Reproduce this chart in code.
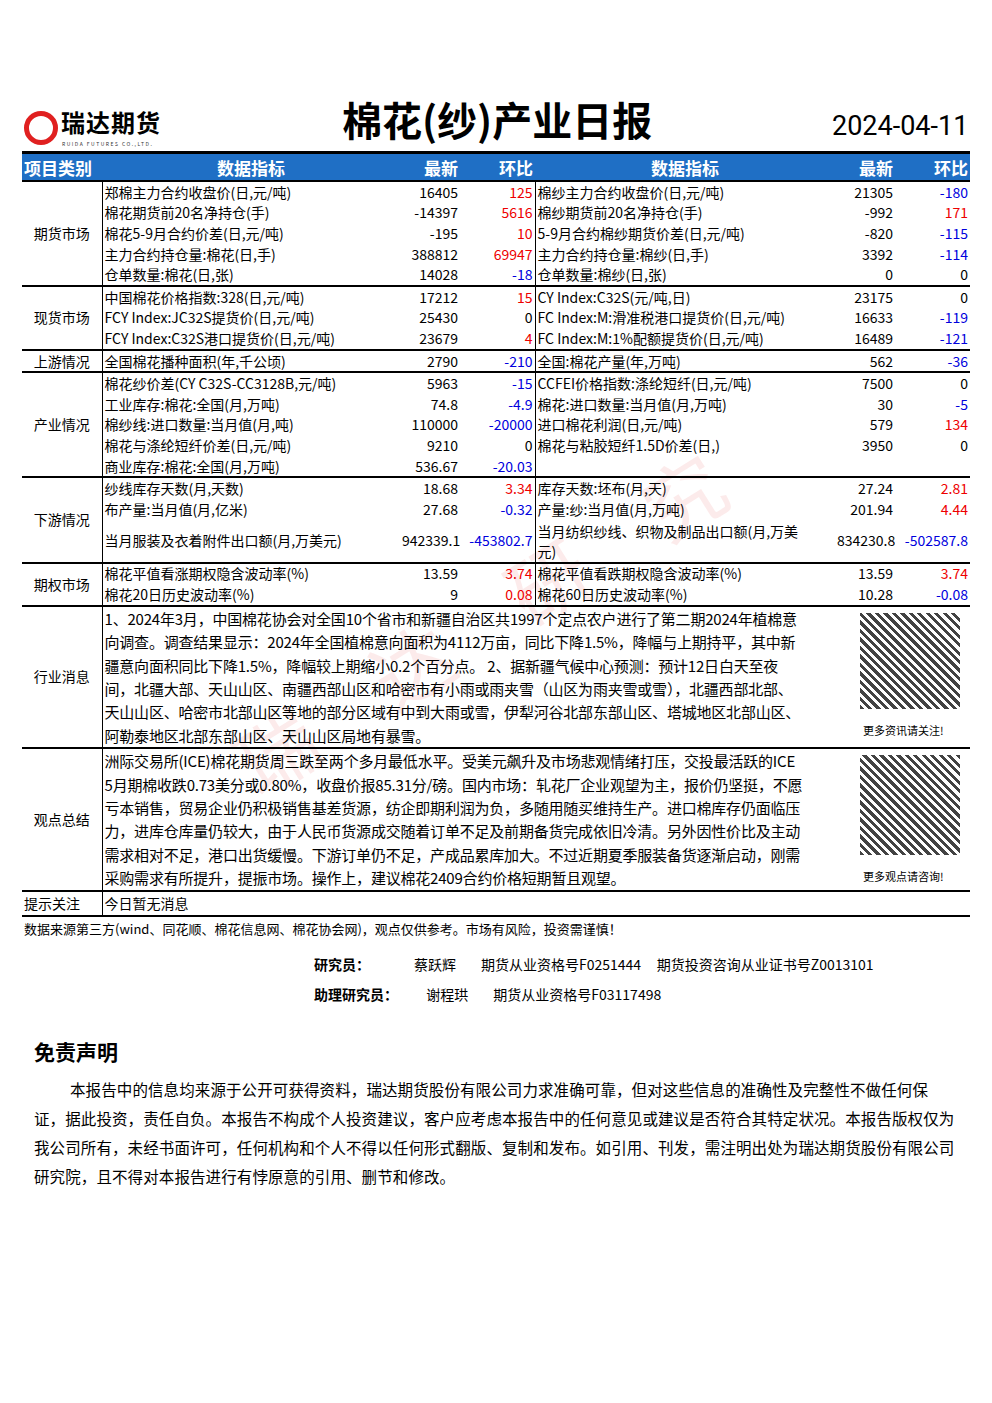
<!DOCTYPE html>
<html><head><meta charset="utf-8">
<script src="https://cdn.jsdelivr.net/npm/chart.js@4"></script>
<style>
body{margin:0;width:992px;height:1403px;background:#fff;font-family:"Noto Sans CJK SC","Noto Sans",sans-serif;position:relative;overflow:hidden;color:#000}
.abs{position:absolute}
table{border-collapse:collapse;table-layout:fixed;position:absolute;left:22px;top:154px;width:948px;font-size:14px}
td{padding:0 2px;height:20.6px;line-height:19px;white-space:nowrap;overflow:hidden}
th{background:#1f6fc5;color:#fff;font-size:17px;height:26px;font-weight:bold;padding:0 2px}
.c{text-align:center}.r{text-align:right}.vl{border-left:1px solid #000}
.pos{color:#e00}.neg{color:#00d}
tr.g td{border-top:2px solid #000}
.txt{white-space:normal;line-height:23.4px;vertical-align:top;padding-top:0;font-size:15px;letter-spacing:-0.2px}
</style></head><body>
<div class="abs" style="left:24px;top:111px;width:34px;height:34px;border-radius:50%;border:5px solid #e02020;box-sizing:border-box"></div>
<div class="abs" style="left:61px;top:107px;font-size:24px;font-weight:bold;letter-spacing:1px;line-height:30px">瑞达期货</div>
<div class="abs" style="left:62px;top:141px;font-size:5px;line-height:6px;letter-spacing:1.5px;color:#333">RUIDA FUTURES CO.,LTD.</div>
<div class="abs" style="left:342px;top:90px;font-size:40px;font-weight:bold">棉花(纱)产业日报</div>
<div class="abs" style="left:832px;top:110px;font-size:27px;font-family:Roboto">2024-04-11</div>
<div class="abs" style="left:22px;top:151px;width:948px;height:3px;background:#000"></div>
<div class="abs" style="left:210px;top:720px;font-size:80px;color:rgba(230,60,60,0.10);transform:rotate(-32deg);transform-origin:left top;white-space:nowrap;letter-spacing:80px">瑞达研究</div>
<table id="t">
<colgroup><col style="width:80px"><col style="width:298px"><col style="width:60px"><col style="width:75px"><col style="width:300px"><col style="width:60px"><col style="width:75px"></colgroup>
<tr><th style="text-align:left">项目类别</th><th>数据指标</th><th class="r">最新</th><th class="r">环比</th><th>数据指标</th><th class="r">最新</th><th class="r">环比</th></tr>
</table>
<div class="abs" style="left:24px;top:919px;font-size:13px">数据来源第三方(wind、同花顺、棉花信息网、棉花协会网)，观点仅供参考。市场有风险，投资需谨慎！</div>
<div class="abs" style="left:314px;top:949px;font-size:14px;line-height:30px;white-space:pre"><b>研究员：</b>              蔡跃辉        期货从业资格号F0251444     期货投资咨询从业证书号Z0013101
<b>助理研究员：</b>         谢程珙        期货从业资格号F03117498</div>
<div class="abs" style="left:34px;top:1036px;font-size:21px;font-weight:bold">免责声明</div>
<div class="abs" style="left:34px;top:1075px;width:925px;font-size:15.5px;line-height:29px;text-indent:36px;letter-spacing:0.1px">本报告中的信息均来源于公开可获得资料，瑞达期货股份有限公司力求准确可靠，但对这些信息的准确性及完整性不做任何保证，据此投资，责任自负。本报告不构成个人投资建议，客户应考虑本报告中的任何意见或建议是否符合其特定状况。本报告版权仅为我公司所有，未经书面许可，任何机构和个人不得以任何形式翻版、复制和发布。如引用、刊发，需注明出处为瑞达期货股份有限公司研究院，且不得对本报告进行有悖原意的引用、删节和修改。</div>
<script>
const groups=[["期货市场",5],["现货市场",3],["上游情况",1],["产业情况",5],["下游情况",3],["期权市场",2]];
const leftNames=["郑棉主力合约收盘价(日,元/吨)","棉花期货前20名净持仓(手)","棉花5-9月合约价差(日,元/吨)","主力合约持仓量:棉花(日,手)","仓单数量:棉花(日,张)","中国棉花价格指数:328(日,元/吨)","FCY Index:JC32S提货价(日,元/吨)","FCY Index:C32S港口提货价(日,元/吨)","全国棉花播种面积(年,千公顷)","棉花纱价差(CY C32S-CC3128B,元/吨)","工业库存:棉花:全国(月,万吨)","棉纱线:进口数量:当月值(月,吨)","棉花与涤纶短纤价差(日,元/吨)","商业库存:棉花:全国(月,万吨)","纱线库存天数(月,天数)","布产量:当月值(月,亿米)","当月服装及衣着附件出口额(月,万美元)","棉花平值看涨期权隐含波动率(%)","棉花20日历史波动率(%)"];
const leftLatest=["16405","-14397","-195","388812","14028","17212","25430","23679","2790","5963","74.8","110000","9210","536.67","18.68","27.68","942339.1","13.59","9"];
const leftChange=["125","5616","10","69947","-18","15","0","4","-210","-15","-4.9","-20000","0","-20.03","3.34","-0.32","-453802.7","3.74","0.08"];
const rightNames=["棉纱主力合约收盘价(日,元/吨)","棉纱期货前20名净持仓(手)","5-9月合约棉纱期货价差(日,元/吨)","主力合约持仓量:棉纱(日,手)","仓单数量:棉纱(日,张)","CY Index:C32S(元/吨,日)","FC Index:M:滑准税港口提货价(日,元/吨)","FC Index:M:1%配额提货价(日,元/吨)","全国:棉花产量(年,万吨)","CCFEI价格指数:涤纶短纤(日,元/吨)","棉花:进口数量:当月值(月,万吨)","进口棉花利润(日,元/吨)","棉花与粘胶短纤1.5D价差(日,)","","库存天数:坯布(月,天)","产量:纱:当月值(月,万吨)","当月纺织纱线、织物及制品出口额(月,万美元)","棉花平值看跌期权隐含波动率(%)","棉花60日历史波动率(%)"];
const rightLatest=["21305","-992","-820","3392","0","23175","16633","16489","562","7500","30","579","3950","","27.24","201.94","834230.8","13.59","10.28"];
const rightChange=["-180","171","-115","-114","0","0","-119","-121","-36","0","-5","134","0","","2.81","4.44","-502587.8","3.74","-0.08"];
const newsText="1、2024年3月，中国棉花协会对全国10个省市和新疆自治区共1997个定点农户进行了第二期2024年植棉意向调查。调查结果显示：2024年全国植棉意向面积为4112万亩，同比下降1.5%，降幅与上期持平，其中新疆意向面积同比下降1.5%，降幅较上期缩小0.2个百分点。 2、据新疆气候中心预测：预计12日白天至夜间，北疆大部、天山山区、南疆西部山区和哈密市有小雨或雨夹雪（山区为雨夹雪或雪），北疆西部北部、天山山区、哈密市北部山区等地的部分区域有中到大雨或雪，伊犁河谷北部东部山区、塔城地区北部山区、阿勒泰地区北部东部山区、天山山区局地有暴雪。";
const viewText="洲际交易所(ICE)棉花期货周三跌至两个多月最低水平。受美元飙升及市场悲观情绪打压，交投最活跃的ICE 5月期棉收跌0.73美分或0.80%，收盘价报85.31分/磅。国内市场：轧花厂企业观望为主，报价仍坚挺，不愿亏本销售，贸易企业仍积极销售基差货源，纺企即期利润为负，多随用随买维持生产。进口棉库存仍面临压力，进库仓库量仍较大，由于人民币货源成交随着订单不足及前期备货完成依旧冷清。另外因性价比及主动需求相对不足，港口出货缓慢。下游订单仍不足，产成品累库加大。不过近期夏季服装备货逐渐启动，刚需采购需求有所提升，提振市场。操作上，建议棉花2409合约价格短期暂且观望。";
const cls=v=>v===""?"":(+v>0?"pos":(+v<0?"neg":""));
const t=document.getElementById("t");let i=0;
groups.forEach(([g,n])=>{for(let k=0;k<n;k++,i++){const tr=document.createElement("tr");if(k===0)tr.className="g";
let h="";if(k===0)h+=`<td class="c" rowspan="${n}" style="border-right:1px solid #000">${g}</td>`;
const tall=leftNames[i].startsWith("当月服装");
const st=tall?' style="height:42px"':'';
h+=`<td${st}>${leftNames[i]}</td><td class="r">${leftLatest[i]}</td><td class="r ${cls(leftChange[i])}">${leftChange[i]}</td>`;
h+=`<td class="vl"${tall?' style="white-space:normal;line-height:20px"':''}>${tall?'<div style="width:268px">'+rightNames[i]+'</div>':rightNames[i]}</td><td class="r">${rightLatest[i]}</td><td class="r ${cls(rightChange[i])}">${rightChange[i]}</td>`;
tr.innerHTML=h;t.appendChild(tr);}});
const qr=(label,h)=>`<td colspan="2" style="vertical-align:top;padding:6px 0 0 0;overflow:visible"><div style="margin-left:25px;width:100px;height:${h}px;background:repeating-linear-gradient(45deg,#222 0 3px,#fff 3px 6px);opacity:.85"></div><div style="font-size:11px;margin-top:12px;margin-left:28px;width:105px;white-space:nowrap">${label}</div></td>`;
[["行业消息",newsText,140,"更多资讯请关注!",96],["观点总结",viewText,138,"更多观点请咨询!",100]].forEach(([g,txt,h,l,qh])=>{
const tr=document.createElement("tr");tr.className="g";
tr.innerHTML=`<td class="c" style="border-right:1px solid #000;height:${h}px">${g}</td><td colspan="4" class="txt" style="overflow:visible"><div style="width:700px">${txt}</div></td>`+qr(l,qh);t.appendChild(tr);});
const tr=document.createElement("tr");tr.className="g";tr.innerHTML=`<td style="border-right:1px solid #000;height:23px">提示关注</td><td colspan="6">今日暂无消息</td>`;t.appendChild(tr);
const tr2=document.createElement("tr");tr2.className="g";tr2.innerHTML=`<td colspan="7" style="height:0;padding:0"></td>`;t.appendChild(tr2);
</script>
</body></html>
